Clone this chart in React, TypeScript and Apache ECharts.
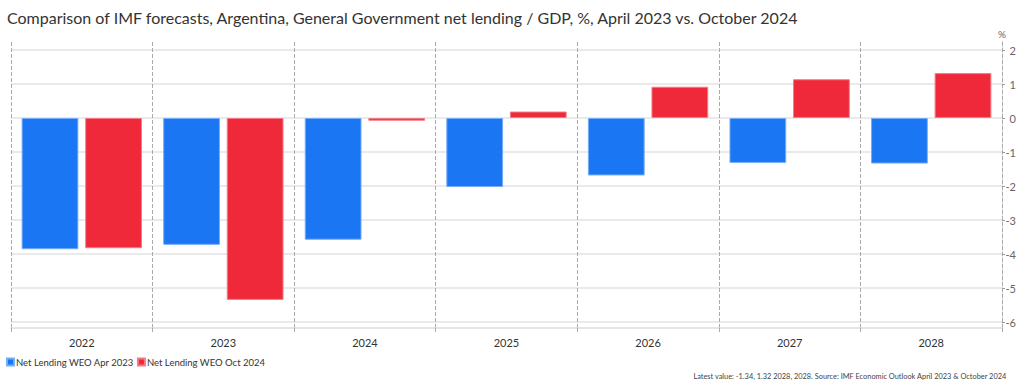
import React, { useEffect, useRef } from "react";
import * as echarts from "echarts";

const years = ["2022", "2023", "2024", "2025", "2026", "2027", "2028"];
const apr2023 = [-3.86, -3.73, -3.58, -2.03, -1.69, -1.32, -1.34];
const oct2024 = [-3.83, -5.35, -0.08, 0.19, 0.92, 1.14, 1.32];
const seriesNames = ["Net Lending WEO Apr 2023", "Net Lending WEO Oct 2024"];
const titleText =
  "Comparison of IMF forecasts, Argentina, General Government net lending / GDP, %, April 2023 vs. October 2024";
const footerText =
  "Latest value: -1.34, 1.32 2028, 2028. Source: IMF Economic Outlook April 2023 & October 2024";

const FONT = "Lato, 'Open Sans', sans-serif";

export default function App() {
  const ref = useRef<HTMLDivElement>(null);
  useEffect(() => {
    if (!ref.current) return;
    const chart = echarts.init(ref.current, undefined, { renderer: "svg" });
    chart.setOption({
      animation: false,
      textStyle: { fontFamily: FONT },
      title: [
        {
          text: titleText,
          left: 7,
          top: 9,
          padding: 0,
          textStyle: { fontSize: 16, fontWeight: "normal", color: "#333", fontFamily: FONT },
        },
        {
          text: footerText,
          right: 17,
          top: 373,
          padding: 0,
          textStyle: { fontSize: 7.4, fontWeight: "normal", color: "#444", fontFamily: FONT },
        },
      ],
      legend: {
        left: 6,
        top: 357,
        padding: 0,
        icon: "rect",
        itemWidth: 7,
        itemHeight: 7,
        itemGap: 3,
        textStyle: { fontSize: 9.5, color: "#333", padding: [0, 0, 0, -3] },
        data: seriesNames,
      },
      grid: [
        { left: 11, right: 22, top: 50, bottom: 69 },
        { left: 11, right: 22, top: 42, bottom: 63 },
      ],
      xAxis: [
        { type: "category", data: years, gridIndex: 0, show: false },
        {
          type: "category",
          data: years,
          gridIndex: 1,
          axisLine: { show: true, lineStyle: { color: "#dddddd", width: 1.5 } },
          axisTick: { show: true, length: 5, lineStyle: { color: "#aaaaaa", type: "dashed" } },
          axisLabel: { color: "#333", fontSize: 11, margin: 9 },
          splitLine: { show: true, lineStyle: { color: "#aaaaaa", type: "dashed" } },
        },
      ],
      yAxis: [
        {
          type: "value",
          gridIndex: 0,
          position: "right",
          min: -6,
          max: 2,
          interval: 1,
          axisLine: { show: false },
          axisTick: { show: true, length: 3, lineStyle: { color: "#999" } },
          axisLabel: { color: "#666", fontSize: 11, align: "right", margin: 14 },
          splitLine: { show: true, lineStyle: { color: "#e3e3e3", width: 1.5 } },
        },
        {
          type: "value",
          gridIndex: 1,
          position: "right",
          min: 0,
          max: 1,
          name: "%",
          nameLocation: "end",
          nameGap: 3,
          nameTextStyle: { color: "#666", fontSize: 10, align: "center" },
          axisLine: { show: true, lineStyle: { color: "#aaaaaa", type: "dashed" } },
          axisTick: { show: false },
          axisLabel: { show: false },
          splitLine: { show: false },
        },
      ],
      series: [
        {
          name: seriesNames[0],
          type: "bar",
          xAxisIndex: 0,
          yAxisIndex: 0,
          data: apr2023,
          barGap: "12%",
          barCategoryGap: "15%",
          itemStyle: { color: "#1a76f2", borderColor: "#75acf7", borderWidth: 1 },
        },
        {
          name: seriesNames[1],
          type: "bar",
          xAxisIndex: 0,
          yAxisIndex: 0,
          data: oct2024,
          barGap: "12%",
          barCategoryGap: "15%",
          itemStyle: { color: "#f0293a", borderColor: "#f57a85", borderWidth: 1 },
        },
      ],
    });
    return () => chart.dispose();
  }, []);
  return (
    <div
      ref={ref}
      style={{ position: "absolute", left: 0, top: 0, width: 1024, height: 391 }}
    />
  );
}
